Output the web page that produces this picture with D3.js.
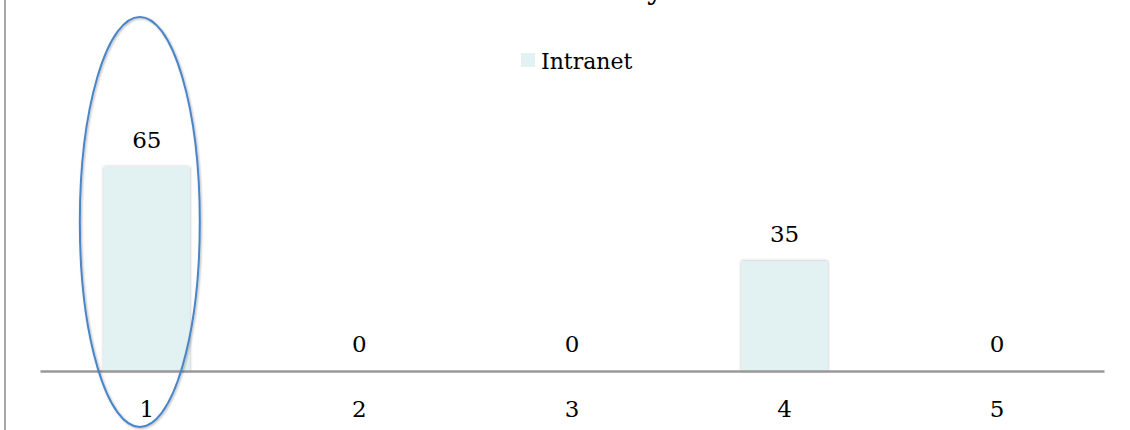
<!DOCTYPE html>
<html>
<head>
<meta charset="utf-8">
<script src="https://cdn.jsdelivr.net/npm/d3@7"></script>
<style>
  body { margin: 0; background: #fff; }
  text { font-family: "DejaVu Serif", "Liberation Serif", serif; fill: #000; }
</style>
</head>
<body>
<div id="chart"></div>
<script>
// chart data
var categories = ["1", "2", "3", "4", "5"];
var intranet = [65, 0, 0, 35, 0];
var seriesName = "Intranet";
var titleText = "Survey";

var W = 1130, H = 430;

var svg = d3.select("#chart")
    .append("svg")
    .attr("width", W)
    .attr("height", H);

// drop shadows for bars and ellipse
var defs = svg.append("defs");
var f = defs.append("filter").attr("id", "shadow")
    .attr("x", "-10%").attr("y", "-10%").attr("width", "120%").attr("height", "120%");
f.append("feDropShadow").attr("dx", 0).attr("dy", 0).attr("stdDeviation", 1.5)
    .attr("flood-color", "#000").attr("flood-opacity", 0.35);
var f2 = defs.append("filter").attr("id", "shadow2")
    .attr("x", "-20%").attr("y", "-5%").attr("width", "140%").attr("height", "110%");
f2.append("feDropShadow").attr("dx", 1).attr("dy", 1).attr("stdDeviation", 1.2)
    .attr("flood-color", "#000").attr("flood-opacity", 0.3);

// scales
var x = d3.scaleBand().domain(categories).range([40, 1104]).paddingInner(0.595).paddingOuter(0.3);
var y = d3.scaleLinear().domain([0, 100]).range([371, 57]);

// left frame line
svg.append("line")
    .attr("x1", 5).attr("x2", 5)
    .attr("y1", 0).attr("y2", H)
    .attr("stroke", "#a6a6a6")
    .attr("stroke-width", 2);

// title (cut off at the top, only a descender shows)
svg.append("text")
    .attr("x", 664)
    .attr("y", -1)
    .attr("text-anchor", "end")
    .style("font-size", "30px")
    .text(titleText);

// bars
svg.selectAll(".bar")
    .data(intranet)
    .enter().append("rect")
    .attr("class", "bar")
    .attr("x", function(d, i) { return x(categories[i]); })
    .attr("width", x.bandwidth())
    .attr("y", function(d) { return y(d); })
    .attr("height", function(d) { return y(0) - y(d); })
    .attr("fill", "#e2f1f2")
    .attr("filter", "url(#shadow)")
    .style("display", function(d) { return d > 0 ? null : "none"; });

// x axis
var xAxis = svg.append("g")
    .attr("transform", "translate(0," + y(0) + ")")
    .call(d3.axisBottom(x).tickSize(0).tickPadding(30));
xAxis.select(".domain")
    .attr("stroke", "#999")
    .attr("stroke-width", 2.5);
xAxis.selectAll("text")
    .style("font-family", "'DejaVu Serif', serif")
    .style("font-size", "23px")
    .attr("fill", "#000");

// value labels
svg.selectAll(".val")
    .data(intranet)
    .enter().append("text")
    .attr("class", "val")
    .attr("x", function(d, i) { return x(categories[i]) + x.bandwidth() / 2; })
    .attr("y", function(d) { return y(d) - 19; })
    .attr("text-anchor", "middle")
    .style("font-size", "23px")
    .text(function(d) { return d; });

// legend
var legend = svg.append("g").attr("transform", "translate(521,53)");
legend.append("rect")
    .attr("width", 14).attr("height", 14)
    .attr("fill", "#e2f1f2");
legend.append("text")
    .attr("x", 20).attr("y", 16)
    .style("font-size", "22px")
    .text(seriesName);

// highlight ellipse around first category
var cx = x(categories[0]) + x.bandwidth() / 2 - 7;
svg.append("ellipse")
    .attr("cx", cx)
    .attr("cy", 222)
    .attr("rx", 60)
    .attr("ry", 205)
    .attr("fill", "none")
    .attr("stroke", "#4a86c8")
    .attr("stroke-width", 2)
    .attr("filter", "url(#shadow2)");
</script>
</body>
</html>
